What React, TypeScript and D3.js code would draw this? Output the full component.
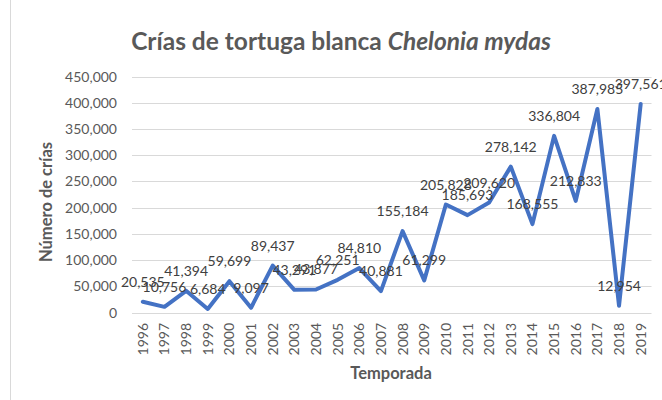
import React from "react";
import * as d3 from "d3";

const years = ["1996","1997","1998","1999","2000","2001","2002","2003","2004","2005","2006","2007","2008","2009","2010","2011","2012","2013","2014","2015","2016","2017","2018","2019"];
const crias = [20535,10756,41394,6684,59699,9097,89437,43291,43877,62251,84810,40881,155184,61299,205828,185693,209620,278142,168555,336804,212833,387985,12954,397561];
const yTicks = [0,50000,100000,150000,200000,250000,300000,350000,400000,450000];

const W = 662, H = 400;
const FONT = "Lato, 'Open Sans', sans-serif";

export default function App() {
  const x = d3.scaleBand<string>().domain(years).range([132, 651.5]);
  const y = d3.scaleLinear().domain([0, 450000]).range([312.5, 76.5]);
  const fmt = d3.format(",");
  const line = d3.line<number>()
    .x((_, i) => (x(years[i]) as number) + x.bandwidth() / 2)
    .y((d) => y(d));
  return (
    <svg width={W} height={H} style={{ position: "absolute", left: 0, top: 0, background: "#fff" }}>
      <rect x={0} y={0} width={W} height={H} fill="#fff" />
      <line x1={10.5} x2={10.5} y1={0} y2={H} stroke="#d9d9d9" strokeWidth={1} />
      <text x={341} y={50} textAnchor="middle" fontFamily={FONT} fontSize={24.5} fontWeight={700} fill="#595959">
        Crías de tortuga blanca <tspan fontStyle="italic">Chelonia mydas</tspan>
      </text>
      {yTicks.map((t) => (
        <g key={t}>
          <line x1={132} x2={651.5} y1={Math.round(y(t)) + 0.5} y2={Math.round(y(t)) + 0.5} stroke="#d9d9d9" strokeWidth={1} />
          <text x={117} y={y(t) + 5} textAnchor="end" fontFamily={FONT} fontSize={14} fill="#595959">{fmt(t)}</text>
        </g>
      ))}
      {years.map((yr) => {
        const cx = (x(yr) as number) + x.bandwidth() / 2;
        return (
          <text key={yr} transform={`translate(${cx + 5},323) rotate(-90)`} textAnchor="end" fontFamily={FONT} fontSize={14} fill="#595959">{yr}</text>
        );
      })}
      <text transform="translate(52,202) rotate(-90)" textAnchor="middle" fontFamily={FONT} fontSize={16.5} fontWeight={700} fill="#595959">Número de crías</text>
      <text x={391} y={379} textAnchor="middle" fontFamily={FONT} fontSize={16.5} fontWeight={700} fill="#595959">Temporada</text>
      <path d={line(crias) || ""} fill="none" stroke="#4472C4" strokeWidth={4} strokeLinejoin="round" strokeLinecap="round" />
      {crias.map((v, i) => {
        const cx = (x(years[i]) as number) + x.bandwidth() / 2;
        return (
          <text key={i} x={cx} y={y(v) - 15} textAnchor="middle" fontFamily={FONT} fontSize={14} fill="#404040">{fmt(v)}</text>
        );
      })}
    </svg>
  );
}
